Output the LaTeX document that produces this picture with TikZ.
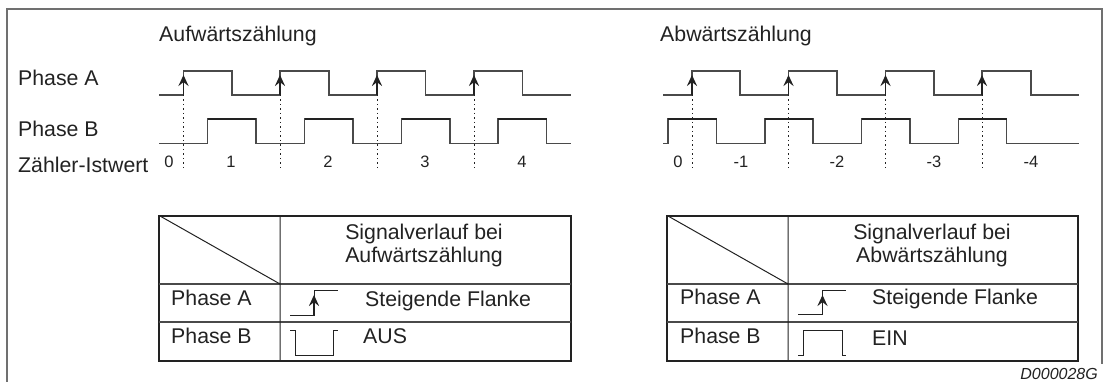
\documentclass[tikz,border=0pt]{standalone}
\usepackage{fontspec}
\setmainfont{Liberation Sans}
\usepackage{tikz}
\usetikzlibrary{arrows.meta,positioning,calc}
\definecolor{ink}{HTML}{222222}
\definecolor{wave}{HTML}{4A4A4A}
\definecolor{frame}{HTML}{707070}
\tikzset{
  >={Stealth[length=3.9mm,width=3.6mm,inset=1.4mm]},
  lab/.style={font=\fontsize{21.3}{24}\selectfont,text=ink,inner sep=0pt,anchor=base west},
  num/.style={font=\fontsize{16.5}{18}\selectfont,text=ink,inner sep=0pt,anchor=base},
  sig/.style={draw=wave,line width=1.3pt},
  sigb/.style={draw=ink,line width=1.9pt},
  dots/.style={draw=ink,line width=1pt,dash pattern=on 1.5pt off 3pt},
  edge/.style={->,draw=ink,line width=1.2pt},
  tabo/.style={draw=ink,line width=2.2pt},
  tabi/.style={draw=wave,line width=1.2pt},
  small/.style={draw=ink,line width=1pt},
}
\begin{document}
\begin{tikzpicture}[x=1pt,y=-1pt]
\useasboundingbox (0,0) rectangle (1104,382);
% frame
\draw[draw=frame,line width=1.7pt] (7,382) -- (7,9) -- (1102,9) -- (1102,364);
% upward counting
\node[lab] (upt) at (159,41.5) {Aufwärtszählung};
\node[lab] (pa) at (18,85.5) {Phase A};
\node[lab] (pb) at (18,136.5) {Phase B};
\node[lab] (cnt) at (18,173) {Zähler-Istwert};
\draw[sig] (159,95) -| (183.5,71) -| (232,95) -| (280,71) -| (329,95) -| (377,71) -| (425.7,95) -| (474,71) -| (522.5,95) -- (571,95);
\draw[sig] (159,143.5) -| (207.5,119) -| (256,143.5) -| (304.5,119) -| (353,143.5) -| (401.5,119) -| (450,143.5) -| (498,119) -| (546.5,143.5) -- (571,143.5);
\foreach \x/\y in {207.5/256,304.5/353,401.5/450,498/546.5}
  \draw[sigb] (\x,119) -- (\y,119);
\foreach \x in {183.5,280,377,474} {
  \draw[dots] (\x,95) -- (\x,168);
  \draw[edge] (\x,95) -- (\x,75);
}
\foreach \x/\t in {169/0,231/1,328/2,425/3,522/4}
  \node[num] at (\x,168) {\t};
% downward counting
\node[lab] (dnt) at (660,41.5) {Abwärtszählung};
\draw[sig] (663,95) -| (692,71) -| (740,95) -| (788.5,71) -| (837,95) -| (885.5,71) -| (934,95) -| (982,71) -| (1031,95) -- (1079,95);
\draw[sig] (663,143.5) -| (668,119) -| (716.5,143.5) -| (765,119) -| (813,143.5) -| (861.5,119) -| (910,143.5) -| (958.5,119) -| (1006.5,143.5) -- (1079,143.5);
\foreach \x/\y in {668/716.5,765/813,861.5/910,958.5/1006.5}
  \draw[sigb] (\x,119) -- (\y,119);
\foreach \x in {692,788.5,885.5,982} {
  \draw[dots] (\x,95) -- (\x,168);
  \draw[edge] (\x,95) -- (\x,75);
}
\foreach \x/\t in {678/0,741/-1,837/-2,934/-3,1031/-4}
  \node[num] at (\x,168) {\t};
% left table
\draw[tabo] (159,216) rectangle (571,361);
\draw[tabi] (159,284) -- (571,284) (159,322) -- (571,322);
\draw[small] (280,216) -- (280,361) (160,216) -- (280,284);
\node[lab,anchor=base] (lh) at (424,240) {Signalverlauf bei};
\node[lab,anchor=base] (lh2) at (424,263) {Aufwärtszählung};
\node[lab] at (171,306) {Phase A};
\node[lab] at (171,344) {Phase B};
\draw[small] (290,316) -| (314,291) -- (338,291);
\draw[edge] (314,316) -- (314,295);
\node[lab] at (365,307) {Steigende Flanke};
\node[lab] at (363,344) {AUS};
\draw[small] (290,331) -| (295,355) -| (333,331) -- (338,331);
% right table
\draw[tabo] (667,216) rectangle (1078,361);
\draw[tabi] (667,284) -- (1078,284) (667,322) -- (1078,322);
\draw[small] (788,216) -- (788,361) (668,216) -- (788,284);
\node[lab,anchor=base] (rh) at (932,240) {Signalverlauf bei};
\node[lab,anchor=base] (rh2) at (932,263) {Abwärtszählung};
\node[lab] at (680,305) {Phase A};
\node[lab] at (680,343) {Phase B};
\draw[small] (798,315) -| (822.5,291) -- (846,291);
\draw[edge] (822.5,315) -- (822.5,295);
\node[lab] at (872,305) {Steigende Flanke};
\node[lab] at (872,345) {EIN};
\draw[small] (798,355) -| (803,331) -| (842,355) -- (846,355);
% drawing number
\node[lab,anchor=base east,font=\fontsize{16}{18}\selectfont\itshape] (code) at (1098,379) {D000028G};
\end{tikzpicture}
\end{document}
